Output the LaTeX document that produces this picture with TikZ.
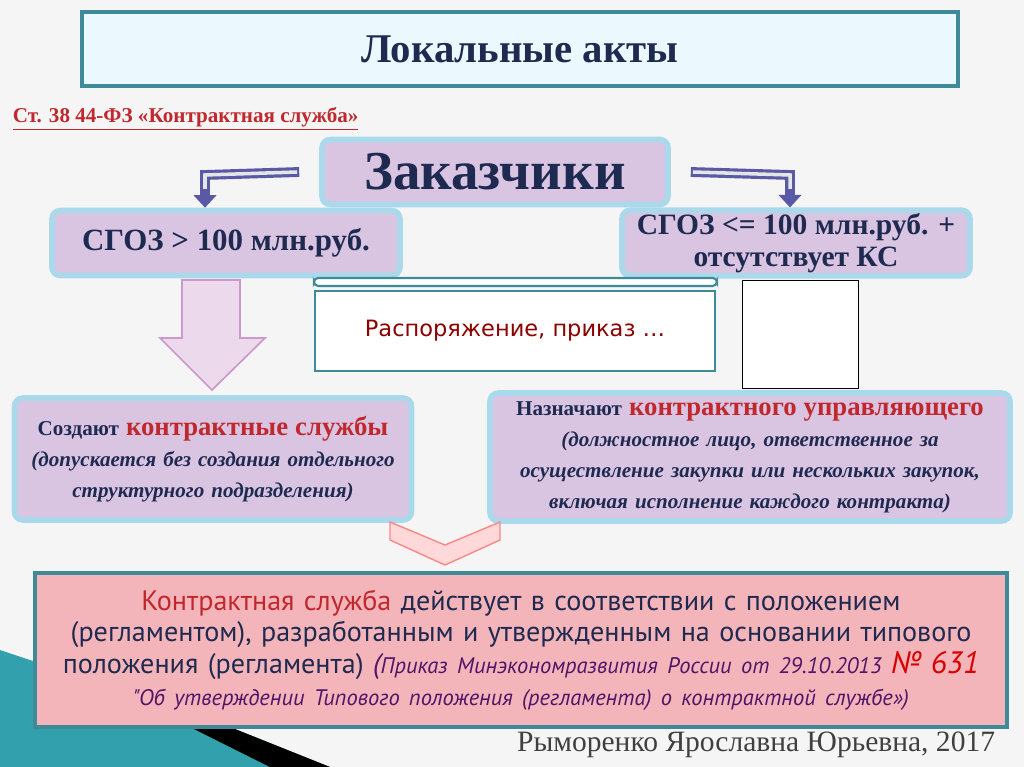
\documentclass[tikz,border=0pt]{standalone}
\usepackage{fontspec}
\setmainfont{Liberation Serif}
\newfontfamily\verd{DejaVu Sans}
\newfontfamily\calib{PT Sans}
\usetikzlibrary{arrows.meta,positioning}
\definecolor{teal1}{HTML}{3E8A99}
\definecolor{lilac}{HTML}{D9C4E2}
\definecolor{skyedge}{HTML}{A9D9EA}
\definecolor{navy}{HTML}{1F2A50}
\definecolor{redtx}{HTML}{C0282D}
\definecolor{pinkbox}{HTML}{F4B5BA}
\begin{document}
\begin{tikzpicture}[x=0.025cm,y=-0.025cm,
    lilacbox/.style={draw=skyedge,line width=4pt,fill=lilac,rounded corners=6pt},
    boxtext/.style={font=\bfseries,text=navy,align=center},
    bentarrow/.style={draw=gray!70!blue,line width=7pt,-{Triangle[length=9pt,width=16pt]}},
    bentinner/.style={draw=gray!20,line width=2.5pt}
    ]
    % background
    \fill[gray!8] (0,0) rectangle (1024,767);
    \fill[teal1!80!cyan] (0,650) -- (230,727) -- (330,767) -- (0,767) -- cycle;
    \fill[black] (230,727) -- (330,767) -- (270,767) -- (190,727) -- cycle;

    % title
    \node[draw=teal1,line width=2.5pt,fill=cyan!8,minimum width=876*0.025cm,minimum height=74*0.025cm,
        font=\bfseries\fontsize{29}{32}\selectfont,text=navy] (title) at (520,49) {Локальные акты};
    \node[anchor=west,text=redtx,font=\bfseries\fontsize{15}{17}\selectfont] (law) at (8,119)
        {\underline{Ст. 38 44-ФЗ «Контрактная служба»}};

    % customers
    \node[lilacbox,minimum width=346*0.025cm,minimum height=65*0.025cm,boxtext,
        font=\bfseries\fontsize{39}{43}\selectfont] (cust) at (495,172) {Заказчики};
    \node[lilacbox,minimum width=348*0.025cm,minimum height=65*0.025cm,boxtext,
        font=\bfseries\fontsize{22}{24}\selectfont] (big) at (226,243) {СГОЗ > 100 млн.руб.};
    \node[lilacbox,minimum width=348*0.025cm,minimum height=65*0.025cm,boxtext,inner sep=2pt,
        font=\bfseries\fontsize{21}{23}\selectfont] (small) at (796,243) {СГОЗ <= 100 млн.руб. +\\отсутствует КС};

    % bent arrows
    \coordinate (lb) at (205,175);
    \coordinate (rb) at (790,175);
    \draw[bentarrow] (cust.west) ++(-20,0) -- (lb) -- (lb |- big.north);
    \draw[bentinner] (cust.west) ++(-22,0) -- (lb) -- ++(0,14);
    \draw[bentarrow] (cust.east) ++(20,0) -- (rb) -- (rb |- small.north);
    \draw[bentinner] (cust.east) ++(22,0) -- (rb) -- ++(0,14);

    % big down arrow
    \draw[draw=violet!40,fill=violet!15,line width=1.2pt] (182,280) -- (240,280) -- (240,338) -- (265,338)
        -- (212,390) -- (160,338) -- (182,338) -- cycle;

    % order scroll
    \node[draw=teal1,line width=1.5pt,fill=white,minimum width=400*0.025cm,minimum height=80*0.025cm,
        font=\verd\fontsize{16}{18}\selectfont,text=red!55!black] (order) at (515,331) {Распоряжение, приказ …};
    \draw[teal1,line width=1.5pt,fill=white,rounded corners=3pt] (order.north west) ++(0,-4) rectangle ++(403,-8);
    \node[draw=black,line width=0.6pt,fill=white,minimum width=116*0.025cm,minimum height=108*0.025cm] (sheet) at (800,334) {};

    % services
    \node[lilacbox,minimum width=397*0.025cm,minimum height=122*0.025cm,text width=385*0.025cm,boxtext,
        font=\bfseries\fontsize{15}{22}\selectfont] (serv) at (213,459)
        {Создают {\color{redtx}\fontsize{19}{22}\selectfont контрактные службы}\\
        \itshape (допускается без создания отдельного структурного подразделения)};
    \node[lilacbox,minimum width=520*0.025cm,minimum height=128*0.025cm,text width=500*0.025cm,boxtext,
        font=\bfseries\fontsize{15}{22}\selectfont] (mgr) at (750,457)
        {Назначают {\color{redtx}\fontsize{19}{22}\selectfont контрактного управляющего}\\
        \itshape (должностное лицо, ответственное за\\ осуществление закупки или нескольких закупок,\\ включая исполнение каждого контракта)};

    % chevron
    \draw[draw=pink!70!red,fill=pink!60,line width=1pt] (390,522) -- (445,545) -- (500,522) -- (500,540)
        -- (445,565) -- (390,540) -- cycle;

    % regulation
    \node[draw=teal1,line width=3pt,fill=pinkbox,minimum width=972*0.025cm,minimum height=154*0.025cm,
        text width=960*0.025cm,align=center,text=navy,font=\calib\fontsize{20}{22.5}\selectfont] (reg) at (521,650)
        {{\color{redtx}Контрактная служба} действует в соответствии с положением\\ (регламентом), разработанным и утвержденным на основании типового\\ положения (регламента) {\itshape\color{violet!50!navy}(\fontsize{16}{22.5}\selectfont Приказ Минэкономразвития России от 29.10.2013 {\color{red!85!black}\fontsize{22}{22.5}\selectfont №~631}\\
        "Об утверждении Типового положения (регламента) о контрактной службе»)}};

    \node[anchor=east,font=\fontsize{21}{24}\selectfont,text=black!75] (author) at (1000,745)
        {Рыморенко Ярославна Юрьевна, 2017};
\end{tikzpicture}
\end{document}
